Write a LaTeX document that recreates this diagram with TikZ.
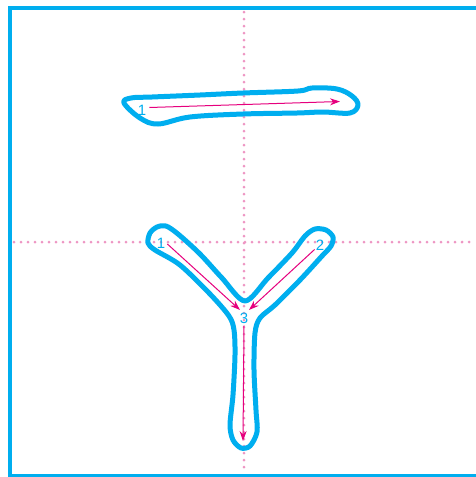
\documentclass[tikz,border=0pt]{standalone}
\usepackage{fontspec}
\setsansfont{Liberation Sans}
\usetikzlibrary{arrows.meta}
\definecolor{cyanline}{RGB}{0,174,239}
\definecolor{magarrow}{RGB}{230,0,126}
\definecolor{dotpink}{RGB}{238,150,195}
\tikzset{
  outline/.style={line width=5pt, cyanline, line join=round},
  order/.style={magarrow, line width=1pt, -{Stealth[length=10pt,width=7pt]}},
  num/.style={cyanline, font=\sffamily\fontsize{15}{15}\selectfont, inner sep=0pt},
  guide/.style={dotpink, line width=3pt, line cap=round, dash pattern=on 0pt off 7pt}
}
\begin{document}
\begin{tikzpicture}[x=1pt,y=-1pt]

        \useasboundingbox (0,0) rectangle (476,477);
        \clip (0,0) rectangle (476,477);
        \fill[white] (0,0) rectangle (476,477);

        \coordinate (tl) at (10,8);
        \coordinate (br) at (490,475.5);
        \coordinate (vtop) at (244,12);
        \coordinate (vbot) at (244,473);
        \coordinate (hleft) at (14,242);
        \coordinate (hright) at (476,242);

        % guide lines and frame
        \draw[guide] (vtop)--(vbot);
        \draw[guide] (hleft)--(hright);
        \draw[line width=3.8pt, cyanline] (tl) rectangle (br);

        % first character
        \draw[outline] plot[smooth cycle, tension=0.6] coordinates {
          (124,103) (131,98) (152,97) (200,95) (243,93) (298,91) (312,88)
          (337,89) (352,96) (358,105) (350,113) (323,112) (297,113)
          (243,114) (190,117) (158,124) (140,118)};
        \node[num] (n1) at (142,110) {1};
        \coordinate (e1) at (340,101.5);
        \draw[order] ([xshift=3pt,yshift=2.5pt]n1.east)--(e1);

        % second character
        \draw[outline] plot[smooth cycle, tension=0.5] coordinates {
          (157,227) (166,226) (178,234) (200,254) (222,278) (245,301)
          (268,278) (292,253) (305,236) (315,229) (326,230) (333,237)
          (331,246) (322,256) (300,280) (275,305) (260,318) (255,333)
          (254,370) (256,410) (257,432) (250,446) (241,448) (233,440)
          (230,425) (233,395) (235,355) (234,330) (229,316) (210,294)
          (180,265) (155,250) (148,243) (150,233)};
        \node[num] (n2) at (161,243) {1};
        \node[num] (n3) at (320,245) {2};
        \node[num] (n4) at (244,318) {3};
        \coordinate (e2) at (240,310);
        \coordinate (e3) at (249,310);
        \coordinate (e4) at (243,441);
        \draw[order] ([xshift=2pt,yshift=-1pt]n2.east)--(e2);
        \draw[order] ([xshift=-1pt,yshift=1pt]n3.south west)--(e3);
        \draw[order] ([yshift=-2pt]n4.south)--(e4);

    \end{tikzpicture}
\end{document}
